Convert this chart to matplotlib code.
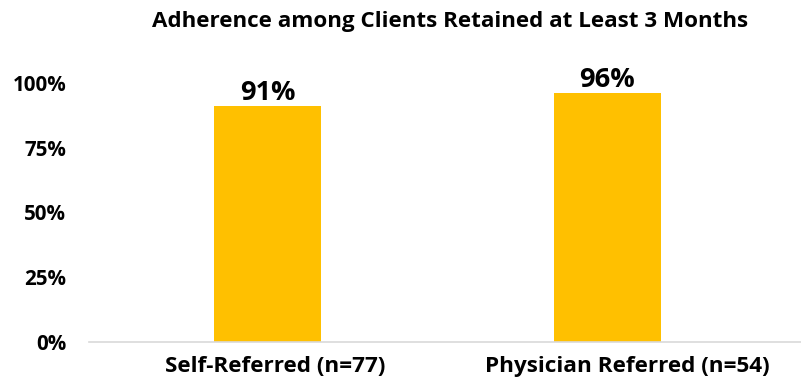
import matplotlib
matplotlib.use('Agg')
import matplotlib.pyplot as plt
import numpy as np

# adherence by referral source
groups = ['Self-Referred (n=77)', 'Physician Referred (n=54)']
adherence = [91, 96]
yticks = [0, 25, 50, 75, 100]

plt.rcParams['font.family'] = ['Open Sans', 'DejaVu Sans']
plt.rcParams['font.weight'] = 'bold'

fig = plt.figure(figsize=(8.01, 3.85), dpi=100)
ax = fig.add_axes([89 / 801, 1 - 342 / 385, 712 / 801, 259 / 385])

x = np.arange(len(groups))
bars = ax.bar(x, adherence, width=0.316, color='#FFC000', zorder=2)

for b, v in zip(bars, adherence):
    ax.text(b.get_x() + b.get_width() / 2, v + 0.3, '{}%'.format(v),
            ha='center', va='bottom', fontsize=19.5, fontweight='bold')

ax.set_xlim(-0.527, 1.571)
ax.set_ylim(0, 100)
ax.set_yticks(yticks)
ax.set_yticklabels(['{}%'.format(t) for t in yticks], fontsize=14.8)
# category labels sit slightly right of the bar centres
ax.set_xticks(x + np.array([0.022, 0.058]))
ax.set_xticklabels(groups, fontsize=16.2)
ax.tick_params(axis='both', length=0)
ax.tick_params(axis='y', pad=16.5)
ax.tick_params(axis='x', pad=10)

for s in ['top', 'right', 'left']:
    ax.spines[s].set_visible(False)
ax.spines['bottom'].set_color('#D9D9D9')
ax.spines['bottom'].set_linewidth(1.2)

fig.text(0.5618, 0.945, 'Adherence among Clients Retained at Least 3 Months',
         ha='center', va='center', fontsize=16.1, fontweight='bold')

fig.savefig('out.png', dpi=100)
